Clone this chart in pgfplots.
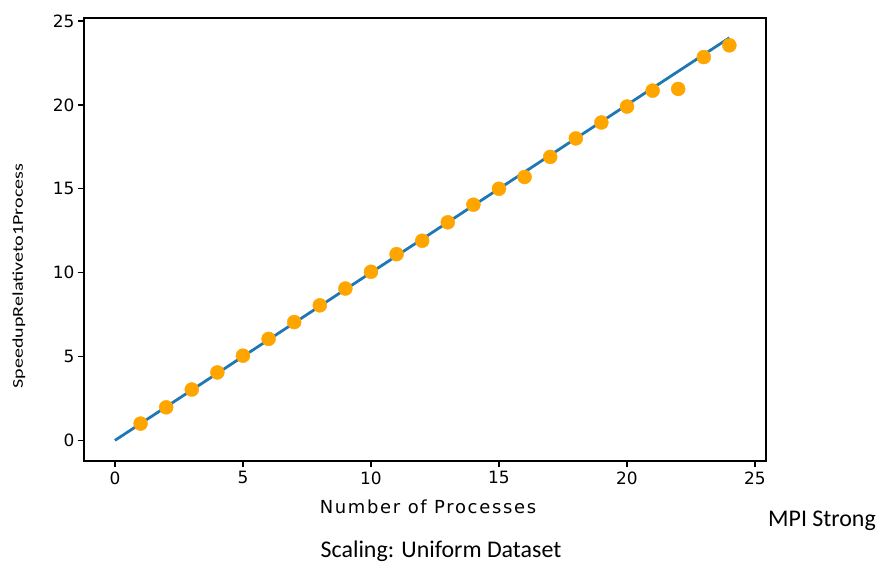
\documentclass[border=0pt]{standalone}
\usepackage{fontspec}
\setmainfont{DejaVu Sans}
\newfontfamily\calfont{Carlito}
\newfontfamily\spacedfont[LetterSpace=9.5]{DejaVu Sans}
\usepackage{pgfplots}
\pgfplotsset{compat=1.18}
\usetikzlibrary{calc}

\definecolor{mplblue}{HTML}{1F77B4}
\definecolor{dotorange}{HTML}{FFA500}

\begin{document}
\begin{tikzpicture}
\begin{axis}[
    name=ax,
    at={(0,0)}, anchor=south west,
    scale only axis,
    width=682bp, height=443bp,
    xmin=-1.21, xmax=25.43,
    ymin=-1.23, ymax=25.18,
    xtick={0,5,10,15,20,25},
    ytick={0,5,10,15,20,25},
    tick pos=left,
    tick align=outside,
    major tick length=6bp,
    every tick/.style={black, line width=1.3bp},
    axis line style={black, line width=2.2bp},
    tick label style={font=\fontsize{17}{20}\selectfont},
    /pgf/number format/assume math mode=true,
    xticklabel style={yshift=-1bp},
    clip=false,
]
\addplot[mplblue, line width=2.8bp] coordinates {(0,0) (24,24)};
\addplot[only marks, mark=*, mark size=7bp, mark options={fill=dotorange, draw=dotorange}] coordinates {
    (1,1.0) (2,1.97) (3,3.03) (4,4.05) (5,5.05) (6,6.05)
    (7,7.05) (8,8.05) (9,9.05) (10,10.05) (11,11.1) (12,11.9)
    (13,13.0) (14,14.05) (15,15.0) (16,15.7) (17,16.9) (18,18.0)
    (19,18.95) (20,19.9) (21,20.85) (22,20.95) (23,22.85) (24,23.55)
};
\end{axis}
\path ($(ax.south west)+(-84bp,-104bp)$) rectangle ($(ax.north east)+(113bp,18bp)$);
\node[font=\spacedfont\fontsize{18}{21}\selectfont] at ($(ax.south west)+(344bp,-46bp)$) {Number of Processes};
\node[font=\calfont\fontsize{15}{18}\selectfont, rotate=90, xscale=1.34] at ($(ax.south west)+(-65bp,185bp)$) {SpeedupRelativeto1Process};
\node[font=\calfont\fontsize{24}{28}\selectfont, anchor=west, inner sep=0pt] at ($(ax.south west)+(684bp,-60bp)$) {MPI Strong};
\node[font=\calfont\fontsize{24}{28}\selectfont] at ($(ax.south west)+(357bp,-90bp)$) {Scaling: Uniform Dataset};
\end{tikzpicture}
\end{document}
